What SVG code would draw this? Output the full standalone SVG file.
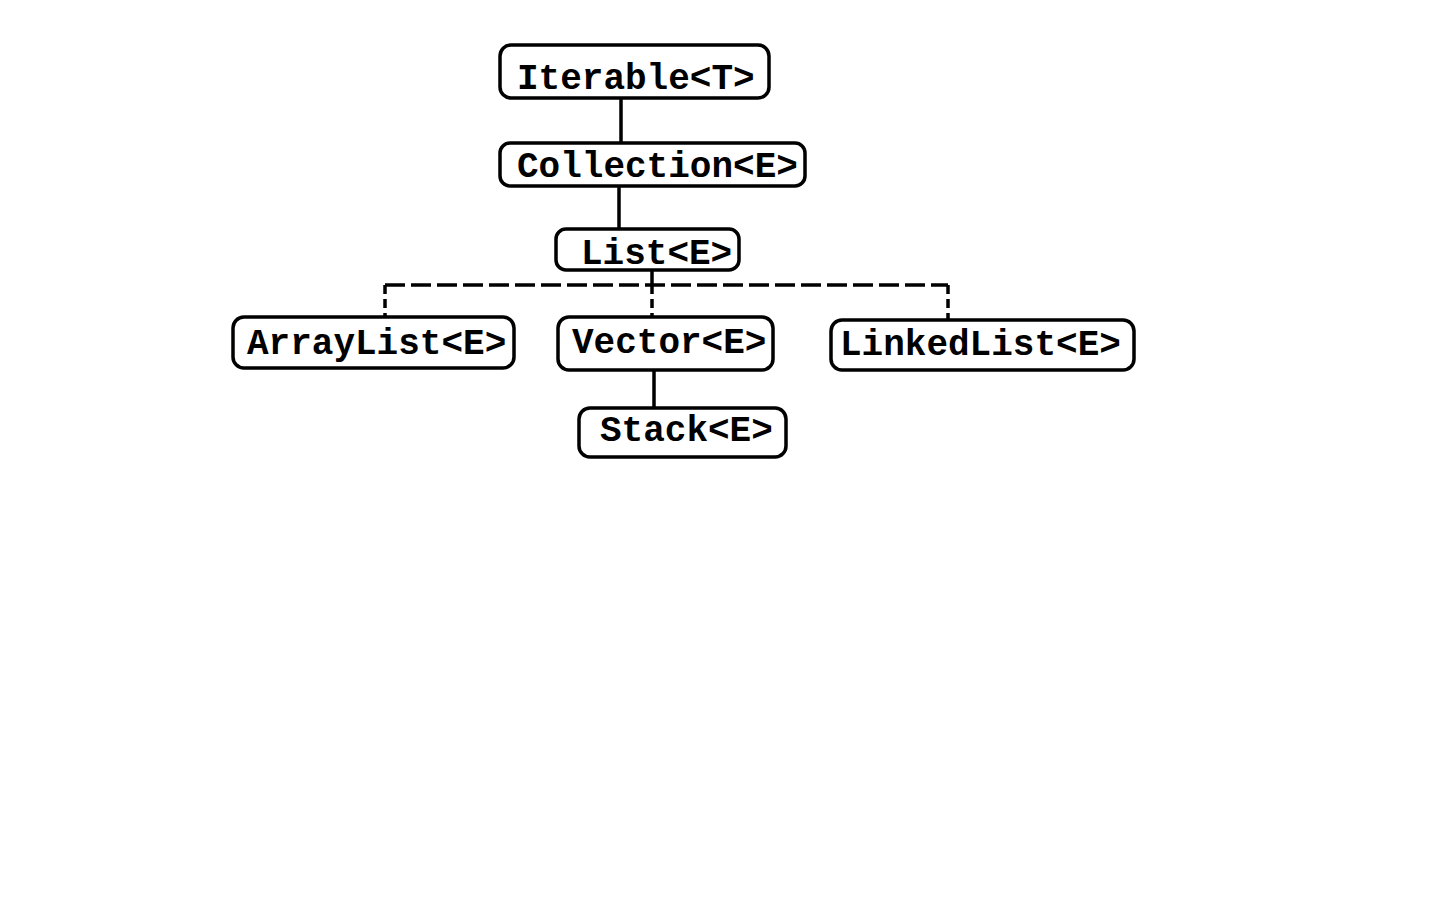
<svg xmlns="http://www.w3.org/2000/svg" width="1440" height="900" viewBox="0 0 1440 900">
<style>
.box{fill:#fff;stroke:#000;stroke-width:3.5}
.lbl{font-family:"Liberation Mono","Courier New",monospace;font-weight:bold;font-size:36px;fill:#000}
.solid{stroke:#000;stroke-width:3.5;fill:none}
.dash{stroke:#000;stroke-width:3.5;fill:none;stroke-dasharray:20 6}
.vdash{stroke:#000;stroke-width:3.5;fill:none;stroke-dasharray:9 5}
</style>
<rect width="1440" height="900" fill="#fff"/>
<g id="connectors">
<line class="solid" x1="621" y1="98" x2="621" y2="143"/>
<line class="solid" x1="619" y1="186" x2="619" y2="229"/>
<line class="solid" x1="652" y1="270" x2="652" y2="285"/>
<line class="vdash" x1="652" y1="285" x2="652" y2="317"/>
<path class="dash" d="M385,285 H948"/>
<line class="vdash" x1="385" y1="285" x2="385" y2="317"/>
<line class="vdash" x1="948" y1="285" x2="948" y2="320"/>
<line class="solid" x1="654" y1="370" x2="654" y2="408"/>
</g>
<g id="iterable">
<rect class="box" x="500" y="45" width="269" height="53" rx="11"/>
<text class="lbl" x="517" y="89">Iterable&lt;T&gt;</text>
</g>
<g id="collection">
<rect class="box" x="500" y="143" width="305" height="43" rx="10"/>
<text class="lbl" x="517" y="177">Collection&lt;E&gt;</text>
</g>
<g id="list">
<rect class="box" x="556" y="229" width="183" height="41" rx="10"/>
<text class="lbl" x="581" y="264">List&lt;E&gt;</text>
</g>
<g id="arraylist">
<rect class="box" x="233" y="317" width="281" height="51" rx="11"/>
<text class="lbl" x="247" y="354">ArrayList&lt;E&gt;</text>
</g>
<g id="vector">
<rect class="box" x="558" y="317" width="215" height="53" rx="11"/>
<text class="lbl" x="572" y="353">Vector&lt;E&gt;</text>
</g>
<g id="linkedlist">
<rect class="box" x="831" y="320" width="303" height="50" rx="11"/>
<text class="lbl" x="840" y="355">LinkedList&lt;E&gt;</text>
</g>
<g id="stack">
<rect class="box" x="579" y="408" width="207" height="49" rx="11"/>
<text class="lbl" x="600" y="441">Stack&lt;E&gt;</text>
</g>
</svg>
